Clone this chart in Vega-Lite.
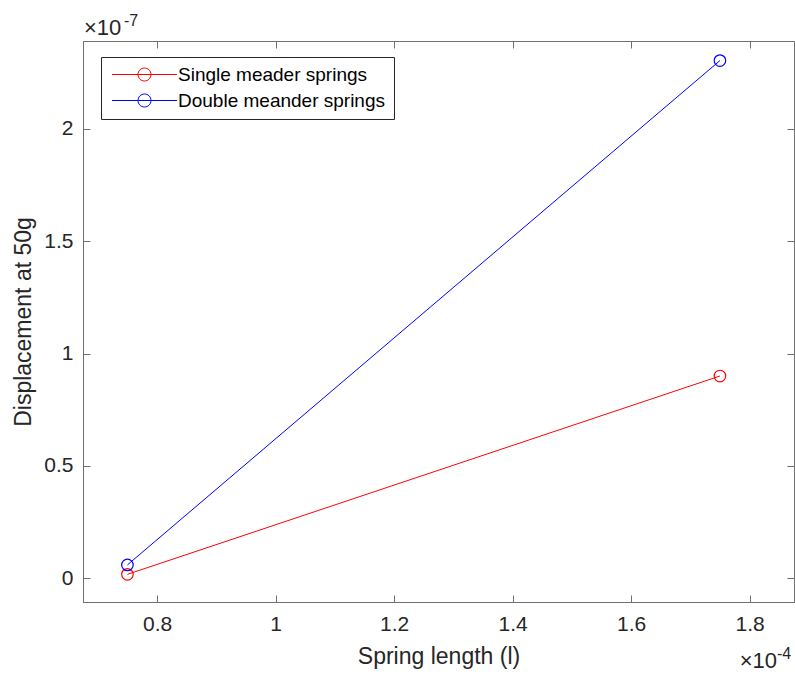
{
  "$schema": "https://vega.github.io/schema/vega-lite/v6.json",
  "width": 711,
  "height": 561,
  "autosize": "none",
  "padding": {"left": 83, "top": 41, "right": 1, "bottom": 72},
  "background": "white",
  "config": {
    "font": "Liberation Sans",
    "view": {"stroke": "#707070", "strokeWidth": 1},
    "axis": {
      "grid": false,
      "domainColor": "#707070",
      "tickColor": "#707070",
      "labelColor": "#262626",
      "titleColor": "#262626",
      "labelFont": "Liberation Sans",
      "titleFont": "Liberation Sans",
      "labelFontSize": 21,
      "titleFontSize": 23,
      "titleFontWeight": "normal",
      "tickSize": -7
    }
  },
  "data": {
    "values": [
      {"length": 7.5e-5, "disp": 1.8e-9, "series": "Single meader springs"},
      {"length": 1.75e-4, "disp": 9.0e-8, "series": "Single meader springs"},
      {"length": 7.5e-5, "disp": 6.0e-9, "series": "Double meander springs"},
      {"length": 1.75e-4, "disp": 2.303e-7, "series": "Double meander springs"}
    ]
  },
  "layer": [
    {
      "mark": {"type": "line", "strokeWidth": 1, "point": {"filled": false, "size": 133, "strokeWidth": 1.2}},
      "encoding": {
        "x": {
          "field": "length", "type": "quantitative",
          "scale": {"domain": [6.75e-5, 1.875e-4], "nice": false, "zero": false},
          "axis": {
            "orient": "bottom",
            "values": [8e-5, 1e-4, 1.2e-4, 1.4e-4, 1.6e-4, 1.8e-4],
            "labelExpr": "format(datum.value*1e4, '.1~f')",
            "labelPadding": 18,
            "title": "Spring length (l)",
            "titlePadding": 11
          }
        },
        "y": {
          "field": "disp", "type": "quantitative",
          "scale": {"domain": [-1.05e-8, 2.39e-7], "nice": false, "zero": false},
          "axis": {
            "orient": "left",
            "values": [0, 5e-8, 1e-7, 1.5e-7, 2e-7],
            "labelExpr": "format(datum.value*1e7, '.1~f')",
            "labelPadding": 17,
            "title": "Displacement at 50g",
            "titlePadding": 8
          }
        },
        "color": {
          "field": "series", "type": "nominal",
          "scale": {"domain": ["Single meader springs", "Double meander springs"], "range": ["#ff0000", "#0000ff"]},
          "legend": {
            "title": null,
            "orient": "none",
            "legendX": 18,
            "legendY": 16,
            "padding": 8,
            "rowPadding": 6,
            "strokeColor": "#262626",
            "fillColor": "white",
            "labelFont": "Liberation Sans",
            "labelFontSize": 19,
            "labelLimit": 0,
            "labelColor": "#000000",
            "labelOffset": 50,
            "symbolType": "M-1,0H9M5,0A1,1,0,1,1,3,0A1,1,0,1,1,5,0",
            "symbolSize": 169,
            "symbolStrokeWidth": 1,
            "encode": {"symbols": {"update": {"fill": {"value": "transparent"}}}}
          }
        }
      }
    },
    {
      "mark": {"type": "point", "opacity": 0},
      "encoding": {
        "x": {
          "field": "length", "type": "quantitative",
          "axis": {"orient": "top", "values": [8e-5, 1e-4, 1.2e-4, 1.4e-4, 1.6e-4, 1.8e-4], "labels": false, "domain": false, "title": null}
        },
        "y": {
          "field": "disp", "type": "quantitative",
          "axis": {"orient": "right", "values": [0, 5e-8, 1e-7, 1.5e-7, 2e-7], "labels": false, "domain": false, "title": null}
        }
      }
    },
    {
      "data": {"values": [{"t": "×10"}]},
      "mark": {"type": "text", "align": "left", "baseline": "alphabetic", "fontSize": 22, "color": "#262626", "dx": 1, "dy": -6},
      "encoding": {
        "x": {"datum": 6.75e-5, "type": "quantitative", "axis": null},
        "y": {"datum": 2.39e-7, "type": "quantitative", "axis": null},
        "text": {"field": "t"}
      }
    },
    {
      "data": {"values": [{"t": "-7"}]},
      "mark": {"type": "text", "align": "left", "baseline": "alphabetic", "fontSize": 16, "color": "#262626", "dx": 41, "dy": -15},
      "encoding": {
        "x": {"datum": 6.75e-5, "type": "quantitative", "axis": null},
        "y": {"datum": 2.39e-7, "type": "quantitative", "axis": null},
        "text": {"field": "t"}
      }
    },
    {
      "data": {"values": [{"t": "×10"}]},
      "mark": {"type": "text", "align": "right", "baseline": "alphabetic", "fontSize": 22, "color": "#262626", "dx": -17, "dy": 66},
      "encoding": {
        "x": {"datum": 1.875e-4, "type": "quantitative", "axis": null},
        "y": {"datum": -1.05e-8, "type": "quantitative", "axis": null},
        "text": {"field": "t"}
      }
    },
    {
      "data": {"values": [{"t": "-4"}]},
      "mark": {"type": "text", "align": "left", "baseline": "alphabetic", "fontSize": 16, "color": "#262626", "dx": -17, "dy": 57},
      "encoding": {
        "x": {"datum": 1.875e-4, "type": "quantitative", "axis": null},
        "y": {"datum": -1.05e-8, "type": "quantitative", "axis": null},
        "text": {"field": "t"}
      }
    }
  ],
  "resolve": {"axis": {"x": "independent", "y": "independent"}}
}
